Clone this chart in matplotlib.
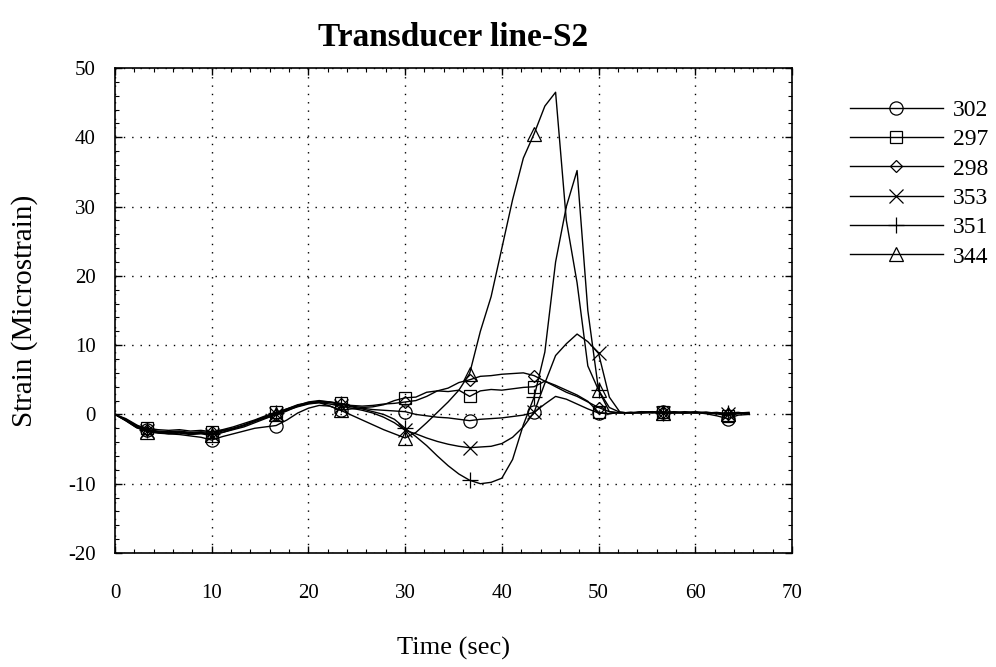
import numpy as np
import matplotlib.pyplot as plt
from matplotlib.ticker import MultipleLocator

plt.rcParams['font.family'] = ['Liberation Serif', 'DejaVu Serif']
plt.rcParams['axes.unicode_minus'] = False

# sample clock: one reading every 10/9 s, 60 readings
time_s = np.arange(60) * 10.0 / 9.0

labels = ['302', '297', '298', '353', '351', '344']
markers = ['o', 's', 'D', 'x', '+', '^']

strain_302 = [0, -0.6, -1.5, -2.3, -2.6, -2.8, -2.9, -3.1, -3.3, -3.7,
              -3.2, -2.8, -2.4, -2.0, -1.8, -1.6, -0.8, 0.2, 0.9, 1.3,
              1.2, 0.6, 0.8, 0.9, 0.7, 0.6, 0.5, 0.4, 0.0, -0.2,
              -0.4, -0.5, -0.7, -0.9, -0.7, -0.6, -0.5, -0.3, -0.1, 0.3,
              1.5, 2.6, 2.2, 1.5, 0.8, 0.2, 0.1, 0.3, 0.2, 0.4,
              0.3, 0.3, 0.2, 0.4, 0.3, 0.1, -0.2, -0.6, -0.1, 0.0]
strain_297 = [0, -0.7, -1.6, -2.0, -2.2, -2.3, -2.2, -2.4, -2.3, -2.5,
              -2.2, -1.8, -1.3, -0.8, -0.2, 0.3, 0.8, 1.4, 1.7, 1.9,
              1.8, 1.6, 1.2, 1.0, 1.1, 1.4, 2.0, 2.4, 2.5, 3.2,
              3.4, 3.3, 3.5, 2.6, 3.4, 3.6, 3.5, 3.7, 3.9, 4.0,
              4.8, 4.2, 3.5, 2.8, 1.9, 0.3, 0.1, 0.3, 0.2, 0.3,
              0.2, 0.4, 0.3, 0.2, 0.3, 0.2, 0.1, -0.2, 0.1, 0.2]
strain_298 = [0, -0.8, -1.8, -2.2, -2.4, -2.5, -2.4, -2.6, -2.5, -2.6,
              -2.3, -2.0, -1.6, -1.0, -0.5, -0.1, 0.5, 1.2, 1.6, 1.8,
              1.7, 1.5, 1.3, 1.2, 1.3, 1.5, 1.6, 1.8, 2.0, 2.6,
              3.4, 3.8, 4.6, 5.0, 5.5, 5.6, 5.8, 5.9, 6.0, 5.6,
              4.8, 4.0, 3.2, 2.6, 1.8, 1.0, 0.4, 0.2, 0.3, 0.2,
              0.4, 0.3, 0.2, 0.3, 0.2, 0.3, 0.2, 0.0, 0.2, 0.1]
strain_353 = [0, -0.9, -1.9, -2.4, -2.6, -2.7, -2.6, -2.8, -2.7, -2.9,
              -2.6, -2.2, -1.8, -1.2, -0.6, 0.0, 0.6, 1.1, 1.5, 1.7,
              1.5, 1.2, 0.9, 0.6, 0.2, -0.4, -1.2, -2.3, -2.8, -3.4,
              -3.9, -4.3, -4.6, -4.8, -4.7, -4.6, -4.2, -3.3, -1.8, 0.3,
              4.5, 8.5, 10.2, 11.6, 10.5, 8.8, 2.5, 0.3, 0.2, 0.3,
              0.4, 0.2, 0.3, 0.2, 0.4, 0.2, 0.3, 0.1, 0.2, 0.1]
strain_351 = [0, -0.8, -1.7, -2.2, -2.5, -2.6, -2.5, -2.7, -2.6, -2.8,
              -2.4, -2.0, -1.5, -0.9, -0.3, 0.2, 0.8, 1.3, 1.8, 2.0,
              1.8, 1.5, 1.1, 0.8, 0.4, 0.0, -0.7, -2.0, -3.2, -4.5,
              -6.0, -7.4, -8.6, -9.5, -10.0, -9.8, -9.2, -6.5, -1.5, 2.5,
              9.0, 22.0, 30.0, 35.2, 15.0, 3.5, 1.0, 0.3, 0.2, 0.4,
              0.3, 0.2, 0.3, 0.2, 0.3, 0.3, 0.1, 0.2, 0.3, 0.1]
strain_344 = [0, -0.9, -1.9, -2.5, -2.7, -2.8, -2.7, -2.9, -2.8, -3.0,
              -2.6, -2.1, -1.6, -1.0, -0.4, 0.1, 0.7, 1.2, 1.6, 1.7,
              1.2, 0.6, -0.1, -0.8, -1.5, -2.2, -2.8, -3.4, -2.6, -1.2,
              0.3, 1.8, 3.5, 5.9, 12.0, 17.0, 24.0, 31.0, 37.0, 40.5,
              44.5, 46.5, 28.0, 19.0, 7.0, 3.5, 0.4, 0.2, 0.3, 0.2,
              0.3, 0.2, 0.4, 0.3, 0.2, 0.3, 0.2, 0.0, 0.2, 0.3]

series = [strain_302, strain_297, strain_298, strain_353, strain_351, strain_344]

fig = plt.figure(figsize=(9.96, 6.67), dpi=100)
ax = fig.add_axes([115 / 996, 1 - 553 / 667, 677 / 996, 485 / 667])

for lab, mk, vals in zip(labels, markers, series):
    ms = {'o': 9.5, 's': 9, 'D': 6.5, 'x': 10, '+': 11, '^': 9.5}[mk]
    ax.plot(time_s, vals, color='black', linewidth=1.0,
            marker=mk, markevery=(3, 6), markersize=ms,
            markerfacecolor='none', markeredgecolor='black',
            markeredgewidth=0.9, label=lab)

ax.set_xlim(0, 70)
ax.set_ylim(-20, 50)
ax.xaxis.set_major_locator(MultipleLocator(10))
ax.xaxis.set_minor_locator(MultipleLocator(2))
ax.yaxis.set_major_locator(MultipleLocator(10))
ax.yaxis.set_minor_locator(MultipleLocator(2))
ax.tick_params(which='both', direction='in', top=True, right=True,
               labelsize=15, colors='black')
ax.tick_params(axis='x', which='major', pad=22)
ax.tick_params(axis='y', which='major', pad=14)
ax.tick_params(which='major', length=5, width=1)
ax.tick_params(which='minor', length=3, width=0.8)
ax.grid(True, which='major', color='black', linewidth=1,
        linestyle=(0, (1, 5)))
for sp in ax.spines.values():
    sp.set_linewidth(1.2)

ax.set_title('Transducer line-S2', fontsize=24, fontweight='bold', pad=16)
ax.set_xlabel('Time (sec)', fontsize=19, labelpad=25)
ax.set_ylabel('Strain (Microstrain)', fontsize=21)
ax.yaxis.set_label_coords(-0.113, 0.5)

fig.legend(loc='upper left', bbox_to_anchor=(841 / 996, 1 - 90 / 667),
           frameon=False, fontsize=17, handlelength=3.9, handletextpad=0.45,
           labelspacing=0.33, borderaxespad=0)

fig.savefig('out.png', dpi=100)
